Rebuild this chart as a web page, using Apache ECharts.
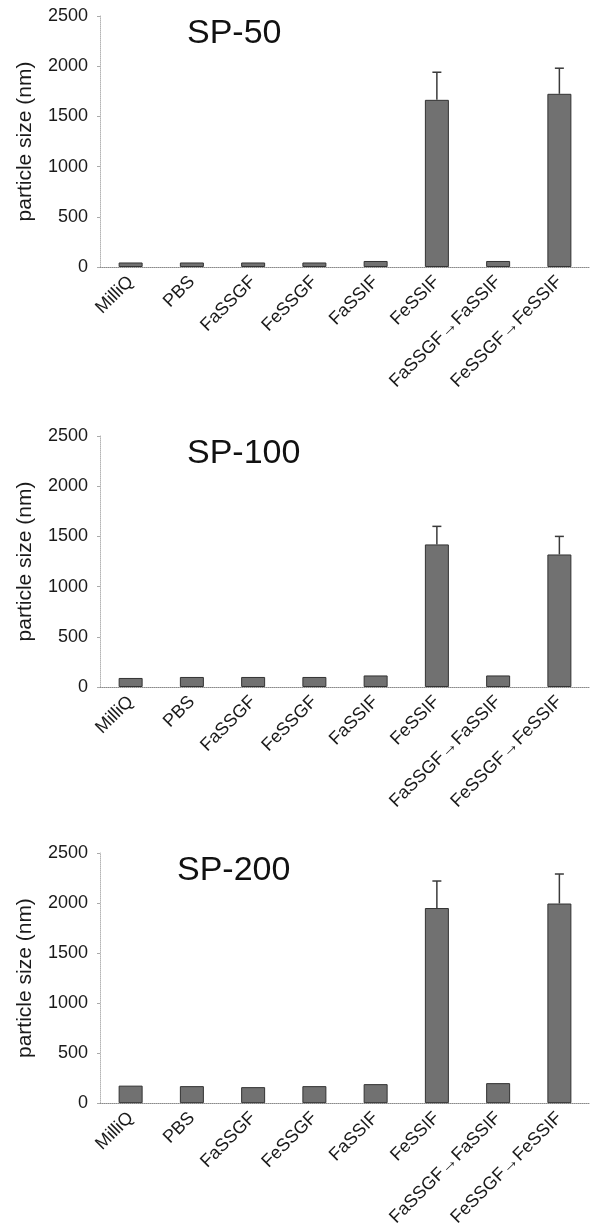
<!DOCTYPE html>
<html>
<head>
<meta charset="utf-8">
<script src="https://cdn.jsdelivr.net/npm/echarts@6/dist/echarts.min.js"></script>
<style>
html,body{margin:0;padding:0;background:#fff;}
#c{width:594px;height:1229px;}
</style>
</head>
<body>
<div id="c"></div>
<script>
const categories = ['MilliQ','PBS','FaSSGF','FeSSGF','FaSSIF','FeSSIF','FaSSGF\u2192FaSSIF','FeSSGF\u2192FeSSIF'];
const panelTitles = ['SP-50','SP-100','SP-200'];
const sp50 = [45,45,45,45,60,1665,60,1725];
const sp50Err = [0,0,0,0,0,275,0,255];
const sp100 = [90,100,100,100,115,1420,115,1320];
const sp100Err = [0,0,0,0,0,180,0,180];
const sp200 = [175,170,160,170,190,1950,200,1995];
const sp200Err = [0,0,0,0,0,270,0,295];
const yTicks = [0,500,1000,1500,2000,2500];
const yName = 'particle size (nm)';

const values = [sp50, sp100, sp200];
const errs = [sp50Err, sp100Err, sp200Err];
const gridTops = [16, 436, 853];
const gridH = 251;
const titleLeft = [182, 182, 172];
const FONT = 'Liberation Sans, Arial, Helvetica, sans-serif';

const chart = echarts.init(document.getElementById('c'));
const grid = [], xAxis = [], yAxis = [], series = [], title = [];
for (let k = 0; k < 3; k++) {
  grid.push({left: 100, right: 4, top: gridTops[k], height: gridH});
  title.push({text: panelTitles[k], left: titleLeft[k], top: gridTops[k] - 4,
    textStyle: {fontFamily: FONT, fontSize: 34, fontWeight: 'normal', color: '#111'}});
  xAxis.push({type: 'category', gridIndex: k, data: categories,
    axisLine: {lineStyle: {color: '#8a8a8a', type: 'dotted', width: 1}},
    axisTick: {show: false},
    axisLabel: {rotate: 45, interval: 0, margin: 12, fontFamily: FONT, fontSize: 18, color: '#1a1a1a'}
  });
  yAxis.push({type: 'value', gridIndex: k, min: yTicks[0], max: yTicks[yTicks.length-1], interval: 500,
    name: yName, nameLocation: 'middle', nameGap: 64,
    nameTextStyle: {fontFamily: FONT, fontSize: 21, color: '#1a1a1a'},
    axisLine: {show: true, lineStyle: {color: '#b5b5b5', type: 'dotted', width: 1}},
    axisTick: {show: true, length: 3, lineStyle: {color: '#aaa'}},
    splitLine: {show: false},
    axisLabel: {margin: 12, fontFamily: FONT, fontSize: 18, color: '#1a1a1a', formatter: v => String(v)}
  });
  series.push({type: 'bar', xAxisIndex: k, yAxisIndex: k, data: values[k], barWidth: 24,
    itemStyle: {color: '#717171', borderColor: '#333', borderWidth: 1}, silent: true});
  series.push({type: 'custom', xAxisIndex: k, yAxisIndex: k, silent: true, z: 3,
    data: categories.map((c, i) => [i, values[k][i], errs[k][i]]),
    encode: {x: 0, y: 1},
    renderItem: function (params, api) {
      const e = api.value(2);
      if (!e) return null;
      const x = api.value(0), v = api.value(1);
      const p0 = api.coord([x, v]);
      const p1 = api.coord([x, v + e]);
      const cap = 4.5;
      return {type: 'group', children: [
        {type: 'line', shape: {x1: p0[0], y1: p0[1], x2: p1[0], y2: p1[1]}, style: {stroke: '#3a3a3a', lineWidth: 1.5}},
        {type: 'line', shape: {x1: p1[0] - cap, y1: p1[1], x2: p1[0] + cap, y2: p1[1]}, style: {stroke: '#3a3a3a', lineWidth: 1.5}}
      ]};
    }
  });
}
chart.setOption({animation: false, backgroundColor: '#fff', title, grid, xAxis, yAxis, series});
</script>
</body>
</html>
